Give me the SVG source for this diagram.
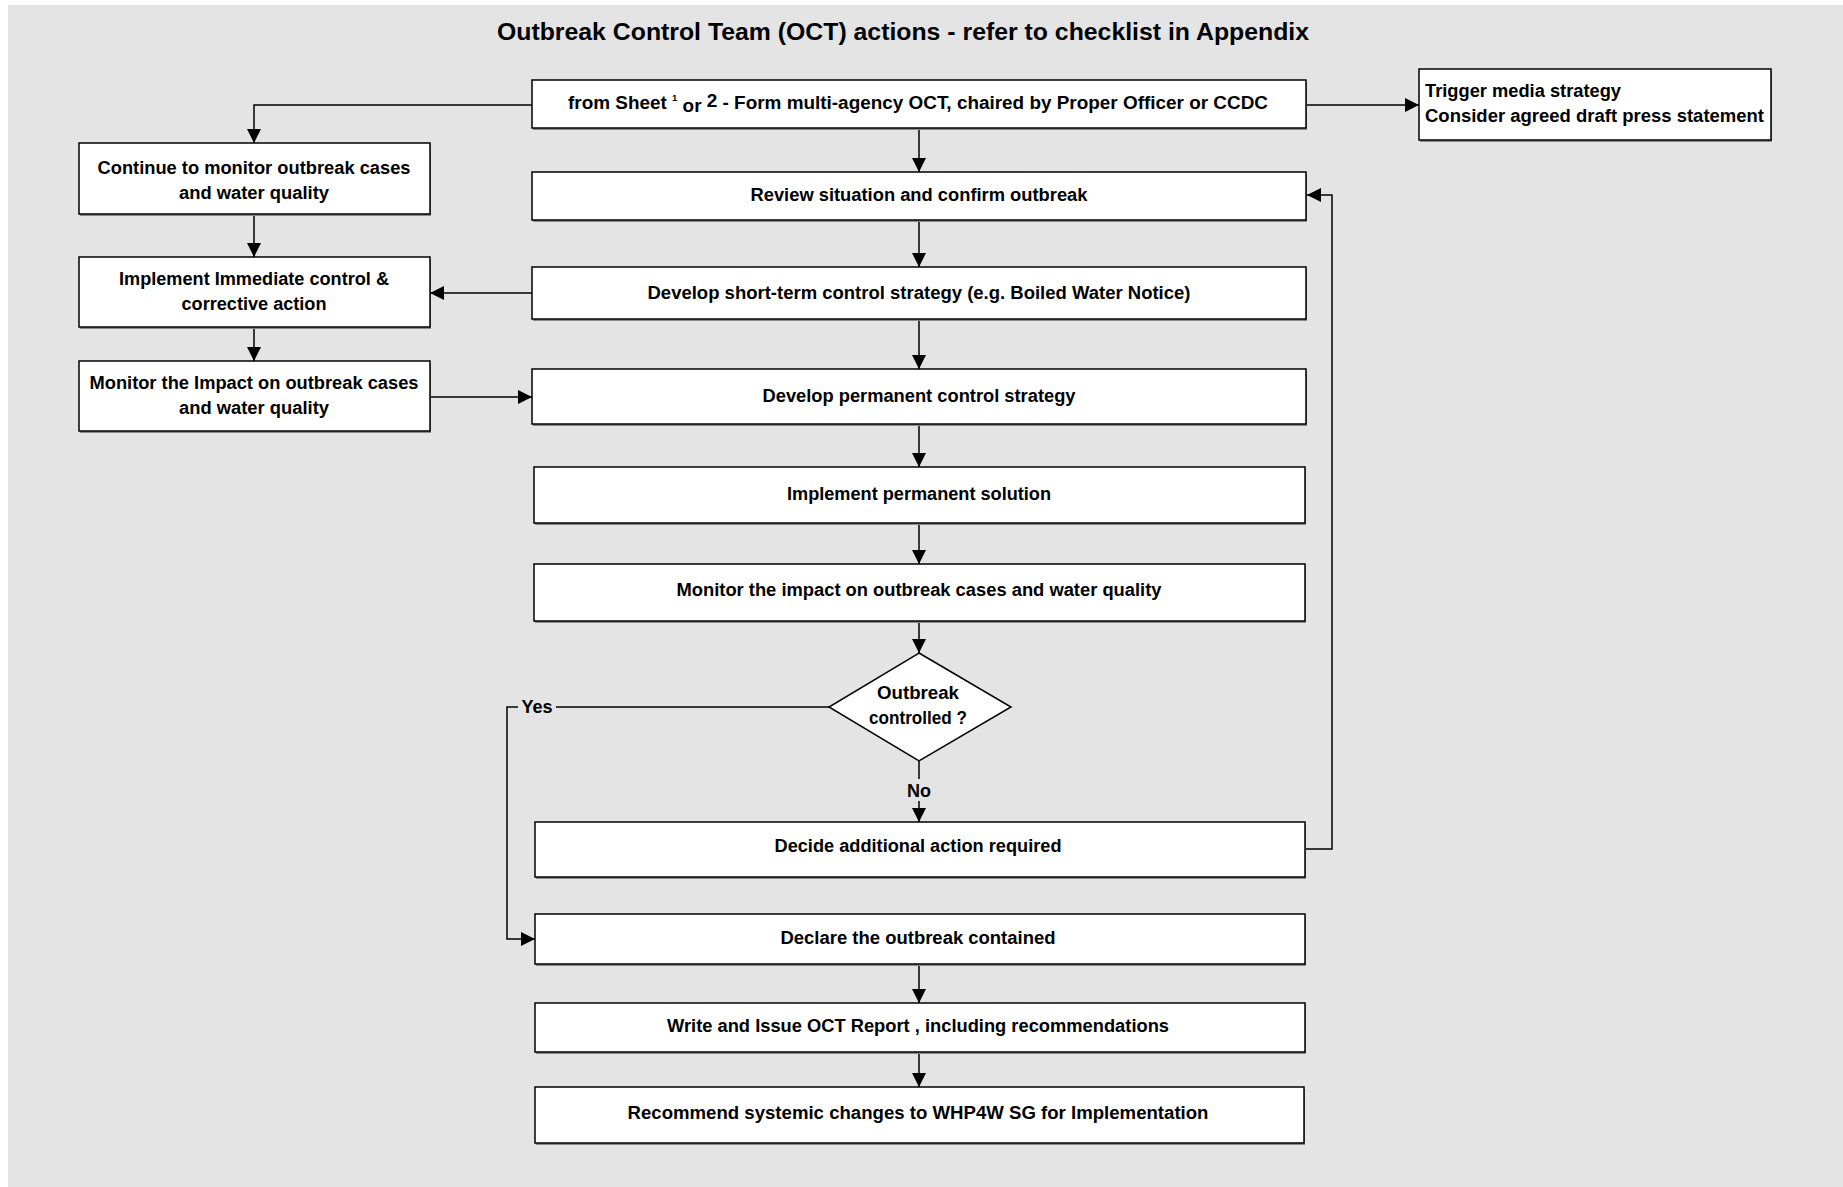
<svg xmlns="http://www.w3.org/2000/svg" width="1843" height="1187" viewBox="0 0 1843 1187">
<style>
.bg{fill:#e4e4e4}
.box{fill:#fff;stroke:#000;stroke-width:1.5}
.sh{fill:#8a8a8a}
.t{font-family:"Liberation Sans",Arial,sans-serif;font-size:18px;font-weight:bold;fill:#000;text-anchor:middle}
.tl{text-anchor:start}
.title{font-size:24.6px}
.c{fill:none;stroke:#000;stroke-width:1.5}
.a{marker-end:url(#ah)}
</style>
<defs>
<marker id="ah" markerUnits="userSpaceOnUse" markerWidth="14" markerHeight="14" refX="14" refY="7" orient="auto">
<path d="M0,0 L14,7 L0,14 Z" fill="#000"/>
</marker>
</defs>
<rect class="bg" x="8" y="5" width="1835" height="1182"/>
<text class="t title" x="903" y="40" textLength="812" lengthAdjust="spacingAndGlyphs">Outbreak Control Team (OCT) actions - refer to checklist in Appendix</text>

<g id="connectors">
<path class="c a" d="M532,105 H254 V143"/>
<path class="c a" d="M1306,105 H1419"/>
<path class="c a" d="M919,128 V172"/>
<path class="c a" d="M919,220 V267"/>
<path class="c a" d="M532,293 H430"/>
<path class="c a" d="M254,214 V257"/>
<path class="c a" d="M254,327 V361"/>
<path class="c a" d="M430,397 H532"/>
<path class="c a" d="M919,319 V369"/>
<path class="c a" d="M919,424 V467"/>
<path class="c a" d="M919,523 V564"/>
<path class="c a" d="M919,621 V653"/>
<path class="c" d="M919,761 V779"/>
<path class="c a" d="M919,801 V822"/>
<path class="c" d="M829,707 H556"/>
<path class="c a" d="M518,707 H507 V939 H535"/>
<path class="c a" d="M1305,849 H1332 V195 H1307"/>
<path class="c a" d="M919,964 V1003"/>
<path class="c a" d="M919,1052 V1087"/>
<text class="t" x="919" y="797">No</text>
<text class="t" x="537" y="713">Yes</text>
</g>

<g id="n-start">
<rect class="sh" x="533" y="82" width="774" height="48"/>
<rect class="box" x="532" y="80" width="774" height="48"/>
<text class="t" x="918" y="109" textLength="700" lengthAdjust="spacingAndGlyphs">from Sheet <tspan font-size="9" dy="-8">1</tspan><tspan dy="11"> or </tspan><tspan dy="-5">2</tspan><tspan dy="2"> - Form multi-agency OCT, chaired by Proper Officer or CCDC</tspan></text>
</g>

<g id="n-media">
<rect class="sh" x="1420" y="71" width="352" height="71"/>
<rect class="box" x="1419" y="69" width="352" height="71"/>
<text class="t tl" x="1425" y="97" textLength="196" lengthAdjust="spacingAndGlyphs">Trigger media strategy</text>
<text class="t tl" x="1425" y="122" textLength="339" lengthAdjust="spacingAndGlyphs">Consider agreed draft press statement</text>
</g>

<g id="n-continue">
<rect class="sh" x="80" y="145" width="351" height="71"/>
<rect class="box" x="79" y="143" width="351" height="71"/>
<text class="t" x="254" y="174" textLength="313" lengthAdjust="spacingAndGlyphs">Continue to monitor outbreak cases</text>
<text class="t" x="254" y="199" textLength="150" lengthAdjust="spacingAndGlyphs">and water quality</text>
</g>

<g id="n-immediate">
<rect class="sh" x="80" y="259" width="351" height="70"/>
<rect class="box" x="79" y="257" width="351" height="70"/>
<text class="t" x="254" y="285" textLength="270" lengthAdjust="spacingAndGlyphs">Implement Immediate control &amp;</text>
<text class="t" x="254" y="310" textLength="145" lengthAdjust="spacingAndGlyphs">corrective action</text>
</g>

<g id="n-monitor-left">
<rect class="sh" x="80" y="363" width="351" height="70"/>
<rect class="box" x="79" y="361" width="351" height="70"/>
<text class="t" x="254" y="389" textLength="329" lengthAdjust="spacingAndGlyphs">Monitor the Impact on outbreak cases</text>
<text class="t" x="254" y="414" textLength="150" lengthAdjust="spacingAndGlyphs">and water quality</text>
</g>

<g id="n-review">
<rect class="sh" x="533" y="174" width="774" height="48"/>
<rect class="box" x="532" y="172" width="774" height="48"/>
<text class="t" x="919" y="201" textLength="337" lengthAdjust="spacingAndGlyphs">Review situation and confirm outbreak</text>
</g>

<g id="n-short-term">
<rect class="sh" x="533" y="269" width="774" height="52"/>
<rect class="box" x="532" y="267" width="774" height="52"/>
<text class="t" x="919" y="299" textLength="543" lengthAdjust="spacingAndGlyphs">Develop short-term control strategy (e.g. Boiled Water Notice)</text>
</g>

<g id="n-permanent">
<rect class="sh" x="533" y="371" width="774" height="55"/>
<rect class="box" x="532" y="369" width="774" height="55"/>
<text class="t" x="919" y="402" textLength="313" lengthAdjust="spacingAndGlyphs">Develop permanent control strategy</text>
</g>

<g id="n-implement-permanent">
<rect class="sh" x="535" y="469" width="771" height="56"/>
<rect class="box" x="534" y="467" width="771" height="56"/>
<text class="t" x="919" y="500" textLength="264" lengthAdjust="spacingAndGlyphs">Implement permanent solution</text>
</g>

<g id="n-monitor">
<rect class="sh" x="535" y="566" width="771" height="57"/>
<rect class="box" x="534" y="564" width="771" height="57"/>
<text class="t" x="919" y="596" textLength="485" lengthAdjust="spacingAndGlyphs">Monitor the impact on outbreak cases and water quality</text>
</g>

<g id="n-decision">
<polygon class="box" points="919,653 1011,707 919,761 829,707"/>
<text class="t" x="918" y="699" textLength="82" lengthAdjust="spacingAndGlyphs">Outbreak</text>
<text class="t" x="918" y="724" textLength="98" lengthAdjust="spacingAndGlyphs">controlled ?</text>
</g>

<g id="n-decide">
<rect class="sh" x="536" y="824" width="770" height="55"/>
<rect class="box" x="535" y="822" width="770" height="55"/>
<text class="t" x="918" y="852" textLength="287" lengthAdjust="spacingAndGlyphs">Decide additional action required</text>
</g>

<g id="n-declare">
<rect class="sh" x="536" y="916" width="770" height="50"/>
<rect class="box" x="535" y="914" width="770" height="50"/>
<text class="t" x="918" y="944" textLength="275" lengthAdjust="spacingAndGlyphs">Declare the outbreak contained</text>
</g>

<g id="n-write">
<rect class="sh" x="536" y="1005" width="770" height="49"/>
<rect class="box" x="535" y="1003" width="770" height="49"/>
<text class="t" x="918" y="1032" textLength="502" lengthAdjust="spacingAndGlyphs">Write and Issue OCT Report , including recommendations</text>
</g>

<g id="n-recommend">
<rect class="sh" x="536" y="1089" width="769" height="56"/>
<rect class="box" x="535" y="1087" width="769" height="56"/>
<text class="t" x="918" y="1119" textLength="581" lengthAdjust="spacingAndGlyphs">Recommend systemic changes to WHP4W SG for Implementation</text>
</g>
</svg>
